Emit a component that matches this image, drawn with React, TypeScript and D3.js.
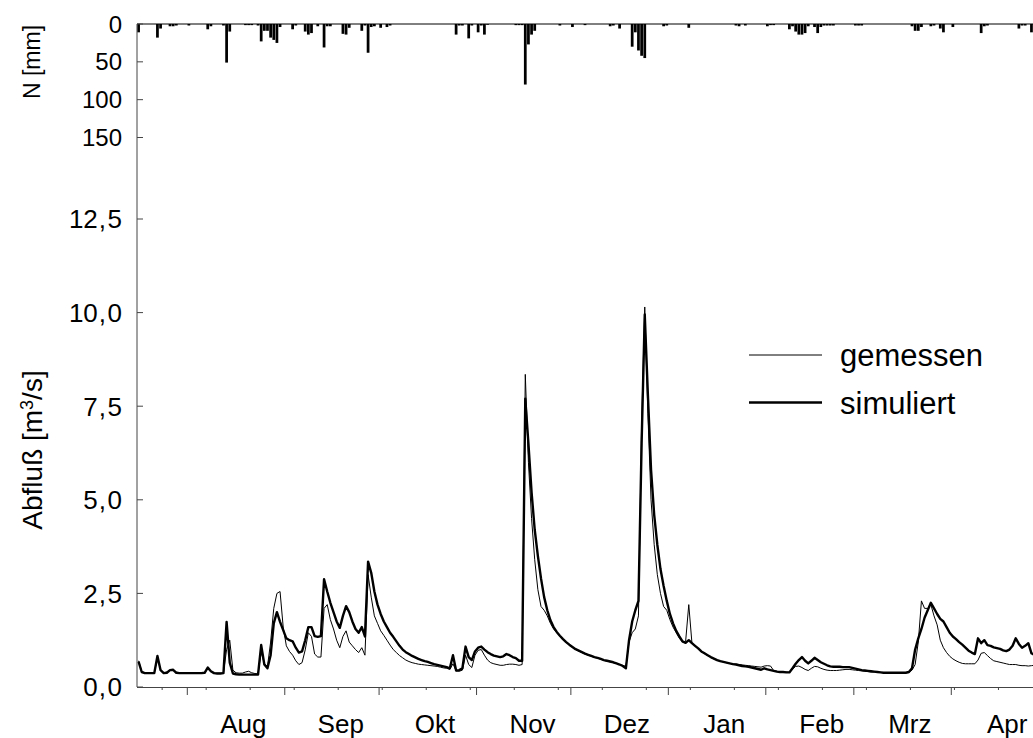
import React from 'react';
import * as d3 from 'd3';

// Daily series starting 16 July (day index 0)
const START = Date.UTC(1994, 6, 16);
const DAY = 86400000;

// simuliert (thick line), m3/s
const simuliert = [
  0.68, 0.40, 0.37, 0.37, 0.37, 0.37, 0.83, 0.45, 0.37, 0.38,
  0.45, 0.46, 0.38, 0.37, 0.37, 0.37, 0.37, 0.37, 0.37, 0.37,
  0.37, 0.38, 0.52, 0.42, 0.37, 0.36, 0.36, 0.37, 1.74, 0.65,
  0.36, 0.34, 0.33, 0.33, 0.33, 0.33, 0.33, 0.33, 0.33, 1.12,
  0.60, 0.50, 0.85, 1.70, 2.00, 1.74, 1.52, 1.30, 1.25, 1.22,
  1.05, 0.92, 0.95, 1.25, 1.60, 1.60, 1.36, 1.34, 1.36, 2.88,
  2.55, 2.25, 2.00, 1.75, 1.58, 1.90, 2.16, 2.00, 1.75, 1.55,
  1.45, 1.60, 1.35, 3.35, 3.05, 2.55, 2.20, 1.95, 1.75, 1.60,
  1.45, 1.34, 1.22, 1.10, 1.00, 0.93, 0.88, 0.83, 0.79, 0.75,
  0.72, 0.69, 0.67, 0.64, 0.61, 0.59, 0.57, 0.55, 0.53, 0.50,
  0.85, 0.44, 0.45, 0.50, 1.08, 0.80, 0.72, 0.95, 1.05, 1.08,
  1.00, 0.93, 0.88, 0.84, 0.82, 0.80, 0.82, 0.88, 0.85, 0.80,
  0.77, 0.70, 0.70, 7.70, 6.50, 5.20, 4.20, 3.50, 2.90, 2.40,
  2.05, 1.78, 1.60, 1.47, 1.37, 1.28, 1.20, 1.13, 1.07, 1.01,
  0.97, 0.93, 0.89, 0.86, 0.83, 0.80, 0.78, 0.75, 0.72, 0.70,
  0.68, 0.66, 0.63, 0.60, 0.56, 0.50, 1.25, 1.75, 2.05, 2.30,
  6.50, 9.95, 7.80, 5.80, 4.60, 3.80, 3.15, 2.70, 2.30, 1.95,
  1.70, 1.50, 1.35, 1.22, 1.18, 1.25, 1.17, 1.10, 1.03, 0.95,
  0.90, 0.85, 0.80, 0.76, 0.72, 0.69, 0.67, 0.65, 0.63, 0.61,
  0.60, 0.58, 0.56, 0.55, 0.54, 0.52, 0.50, 0.48, 0.46, 0.50,
  0.47, 0.45, 0.43, 0.41, 0.40, 0.40, 0.39, 0.39, 0.50, 0.62,
  0.72, 0.80, 0.70, 0.63, 0.70, 0.78, 0.72, 0.66, 0.62, 0.58,
  0.55, 0.54, 0.54, 0.54, 0.53, 0.53, 0.53, 0.51, 0.49, 0.47,
  0.45, 0.44, 0.43, 0.42, 0.41, 0.40, 0.39, 0.38, 0.38, 0.38,
  0.38, 0.38, 0.38, 0.38, 0.38, 0.40, 0.50, 1.00, 1.30, 1.55,
  1.85, 2.05, 2.25, 2.10, 1.95, 1.82, 1.75, 1.60, 1.45, 1.35,
  1.28, 1.20, 1.13, 1.05, 0.97, 0.92, 0.88, 1.30, 1.17, 1.25,
  1.12, 1.10, 1.06, 1.04, 1.02, 0.98, 0.96, 1.00, 1.10, 1.30,
  1.15, 1.05, 1.10, 1.17, 0.90, 0.85,
];

// gemessen (thin line), m3/s
const gemessen = [
  0.70, 0.42, 0.38, 0.37, 0.37, 0.37, 0.80, 0.45, 0.38, 0.40,
  0.45, 0.47, 0.40, 0.38, 0.38, 0.38, 0.38, 0.38, 0.38, 0.38,
  0.38, 0.38, 0.48, 0.42, 0.37, 0.37, 0.37, 0.38, 1.00, 1.25,
  0.45, 0.38, 0.37, 0.37, 0.40, 0.42, 0.38, 0.36, 0.35, 0.94,
  0.62, 0.55, 1.20, 2.10, 2.50, 2.55, 1.60, 1.10, 0.95, 0.85,
  0.70, 0.60, 0.65, 0.99, 1.45, 1.35, 0.88, 0.80, 0.80, 2.10,
  2.20, 1.80, 1.55, 1.25, 1.05, 1.35, 1.50, 1.20, 1.10, 1.00,
  0.92, 1.05, 0.85, 3.00, 2.40, 1.90, 1.70, 1.50, 1.38, 1.25,
  1.12, 1.00, 0.92, 0.84, 0.78, 0.72, 0.68, 0.65, 0.63, 0.61,
  0.60, 0.59, 0.58, 0.57, 0.56, 0.55, 0.53, 0.51, 0.50, 0.47,
  0.62, 0.43, 0.42, 0.45, 0.85, 0.60, 0.52, 0.85, 0.98, 1.00,
  0.85, 0.72, 0.65, 0.62, 0.60, 0.58, 0.58, 0.60, 0.61, 0.61,
  0.60, 0.58, 0.60, 8.35, 6.00, 4.50, 3.40, 2.60, 2.15, 2.05,
  1.90, 1.70, 1.55, 1.45, 1.36, 1.27, 1.19, 1.12, 1.06, 1.00,
  0.96, 0.92, 0.88, 0.85, 0.82, 0.79, 0.77, 0.74, 0.71, 0.69,
  0.67, 0.65, 0.63, 0.60, 0.58, 0.55, 1.20, 1.45, 1.55, 1.90,
  7.00, 10.15, 7.30, 5.00, 3.80, 3.00, 2.50, 2.15, 2.05, 1.80,
  1.60, 1.45, 1.30, 1.20, 1.22, 2.20, 1.18, 1.10, 1.02, 0.94,
  0.89, 0.84, 0.79, 0.75, 0.72, 0.69, 0.67, 0.65, 0.63, 0.62,
  0.61, 0.60, 0.59, 0.58, 0.57, 0.56, 0.55, 0.54, 0.53, 0.56,
  0.57, 0.56, 0.44, 0.42, 0.41, 0.40, 0.40, 0.39, 0.48, 0.55,
  0.56, 0.52, 0.47, 0.44, 0.50, 0.55, 0.54, 0.50, 0.47, 0.45,
  0.44, 0.44, 0.44, 0.45, 0.46, 0.47, 0.47, 0.46, 0.45, 0.44,
  0.43, 0.42, 0.41, 0.40, 0.40, 0.39, 0.39, 0.38, 0.38, 0.38,
  0.38, 0.38, 0.38, 0.38, 0.38, 0.39, 0.45, 0.60, 1.20, 2.30,
  2.10, 2.10, 2.20, 1.90, 1.66, 1.25, 1.05, 0.92, 0.82, 0.75,
  0.70, 0.66, 0.63, 0.62, 0.62, 0.62, 0.62, 0.72, 0.90, 0.92,
  0.84, 0.76, 0.70, 0.68, 0.66, 0.64, 0.62, 0.60, 0.60, 0.60,
  0.58, 0.57, 0.57, 0.56, 0.57, 0.58,
];

// Niederschlag N, mm/day
const niederschlag = [
  11, 0, 0, 0, 0, 0, 18, 6, 0, 0,
  3, 3, 2, 0, 0, 0, 2, 0, 0, 0,
  0, 0, 7, 3, 0, 0, 0, 2, 51, 10,
  0, 0, 0, 0, 1.5, 1.5, 1.5, 0, 2, 23,
  9, 9, 18, 21, 25, 4, 0, 0, 0, 7,
  2, 0, 0, 10, 14, 12, 0, 3, 0, 31,
  3, 3, 0, 0, 0, 13, 14, 5, 0, 0,
  0, 9, 2, 38, 4, 3, 0, 5, 0, 4,
  2, 0, 0, 0, 0, 0, 0, 0, 0, 0,
  0, 0, 0, 0, 0, 0, 0, 0, 0, 0,
  0, 14, 2, 2, 0, 19, 2, 0, 11, 2,
  14, 1, 0, 0, 0, 0, 0, 0, 0, 0,
  1.5, 1.5, 1.5, 80, 27, 14, 9, 0, 0, 0,
  0, 0, 0, 0, 2, 0, 0, 0, 4, 0,
  0, 0, 1.5, 0, 0, 0, 0, 0, 0, 0,
  3, 2, 0, 6, 0, 0, 0, 30, 11, 35,
  42, 45, 0, 0, 0, 0, 0, 3, 2, 0,
  0, 0, 0, 0, 0, 5, 0, 0, 0, 0,
  0, 0, 0, 0, 0, 0, 0, 0, 0, 0,
  2, 3, 0, 2, 0, 0, 0, 0, 0, 0,
  3, 1.5, 1.5, 0, 0, 0, 0, 7, 3, 10,
  14, 14, 12, 3, 0, 4, 12, 4, 2, 2,
  2, 2, 0, 0, 0, 0, 0, 0, 2, 2,
  2, 0, 0, 0, 0, 0, 0, 0, 0, 0,
  0, 0, 0, 0, 0, 0, 3, 9, 9, 4,
  0, 0, 3, 2, 0, 6, 11, 0, 0, 4,
  0, 0, 0, 0, 0, 0, 0, 0, 12, 3,
  2, 0, 0, 0, 0, 0, 0, 0, 0, 0,
  6, 2, 2, 0, 11, 0,
];

const monthNames = ['Aug', 'Sep', 'Okt', 'Nov', 'Dez', 'Jan', 'Feb', 'Mrz', 'Apr'];
const qTicks = [0, 2.5, 5, 7.5, 10, 12.5];
const nTicks = [0, 50, 100, 150];
const legendItems = [
  { name: 'gemessen', width: 1 },
  { name: 'simuliert', width: 2.4 },
];

const FONT = '"Liberation Sans", Arial, Helvetica, sans-serif';

export default function App() {
  const W = 1033;
  const H = 738;
  const left = 137;
  const bottom = 687;
  const nTop = 24;
  const pxPerDay = 3.144;
  const spanDays = 292;

  const x = d3
    .scaleUtc()
    .domain([new Date(START), new Date(START + spanDays * DAY)])
    .range([left, left + spanDays * pxPerDay]);
  const y = d3.scaleLinear().domain([0, 12.5]).range([bottom, 219]);
  const yN = d3.scaleLinear().domain([0, 150]).range([nTop, nTop + 113.5]);

  const dayDate = (i: number) => new Date(START + i * DAY);

  const line = d3
    .line<number>()
    .x((_, i) => x(dayDate(i + 0.5)))
    .y((v) => y(v));

  const months = d3.utcMonth.range(new Date(Date.UTC(1994, 7, 1)), new Date(Date.UTC(1995, 3, 2)));
  const minorDays = d3.range(8, spanDays, 14);

  return (
    <div style={{ position: 'absolute', left: 0, top: 0 }}>
      <svg width={W} height={H} style={{ display: 'block', background: '#fff' }} fontFamily={FONT}>
        <defs>
          <clipPath id="plot">
            <rect x={left} y={0} width={W - left} height={bottom} />
          </clipPath>
        </defs>

        {/* precipitation bars */}
        <g clipPath="url(#plot)">
          {niederschlag.map((v, i) =>
            v > 0 ? (
              <rect
                key={i}
                x={x(dayDate(i)) + 0.2}
                y={nTop}
                width={pxPerDay - 0.4}
                height={yN(v) - nTop}
                fill="#000"
              />
            ) : null
          )}
        </g>

        {/* discharge lines */}
        <g clipPath="url(#plot)" fill="none" strokeLinejoin="round">
          <path d={line(gemessen) || ''} stroke="#000" strokeWidth={1} />
          <path d={line(simuliert) || ''} stroke="#000" strokeWidth={2.4} />
        </g>

        {/* axes lines */}
        <line x1={left} x2={W} y1={nTop} y2={nTop} stroke="#000" strokeWidth={1} />
        <line x1={left} x2={left} y1={nTop} y2={bottom} stroke="#444" strokeWidth={1} />
        <line x1={left} x2={W} y1={bottom + 0.5} y2={bottom + 0.5} stroke="#444" strokeWidth={1} />

        {/* N axis ticks */}
        {nTicks.map((t) => (
          <g key={'n' + t}>
            <line x1={left} x2={left + 6} y1={yN(t)} y2={yN(t)} stroke="#444" />
            <text x={122} y={yN(t)} dy="0.36em" textAnchor="end" fontSize={24}>
              {t}
            </text>
          </g>
        ))}

        {/* Q axis ticks */}
        {qTicks.map((t) => {
          const [a, b] = d3.format('.1f')(t).split('.');
          return (
            <g key={'q' + t}>
              <line x1={left} x2={left + 6} y1={y(t)} y2={y(t)} stroke="#444" />
              <text x={122} y={y(t)} dy="0.36em" textAnchor="end" fontSize={26}>
                <tspan>{a}</tspan>
                <tspan dx={1}>,</tspan>
                <tspan dx={1.5}>{b}</tspan>
              </text>
            </g>
          );
        })}

        {/* x ticks */}
        {minorDays.map((d) => (
          <line key={'m' + d} x1={x(dayDate(d))} x2={x(dayDate(d))} y1={bottom} y2={bottom + 3} stroke="#444" />
        ))}
        {months.map((m, i) => (
          <g key={'M' + i}>
            <line x1={x(m)} x2={x(m)} y1={bottom} y2={bottom + 8} stroke="#444" />
            <text x={x(new Date(+m + 17.8 * DAY))} y={733} textAnchor="middle" fontSize={26}>
              {monthNames[i]}
            </text>
          </g>
        ))}

        {/* axis titles */}
        <text transform="translate(40,62) rotate(-90)" textAnchor="middle" fontSize={23}>
          N [mm]
        </text>
        <text transform="translate(42,450) rotate(-90)" textAnchor="middle" fontSize={28}>
          Abfluß [m<tspan dy={-9} fontSize={18}>3</tspan>
          <tspan dy={9}>/s]</tspan>
        </text>

        {/* legend */}
        {legendItems.map((it, i) => (
          <g key={it.name} transform={`translate(0,${355 + i * 47.5})`}>
            <line x1={749} x2={822} y1={0} y2={0} stroke="#000" strokeWidth={it.width} />
            <text x={840} y={0} dy="0.36em" fontSize={31}>
              {it.name}
            </text>
          </g>
        ))}
      </svg>
    </div>
  );
}
